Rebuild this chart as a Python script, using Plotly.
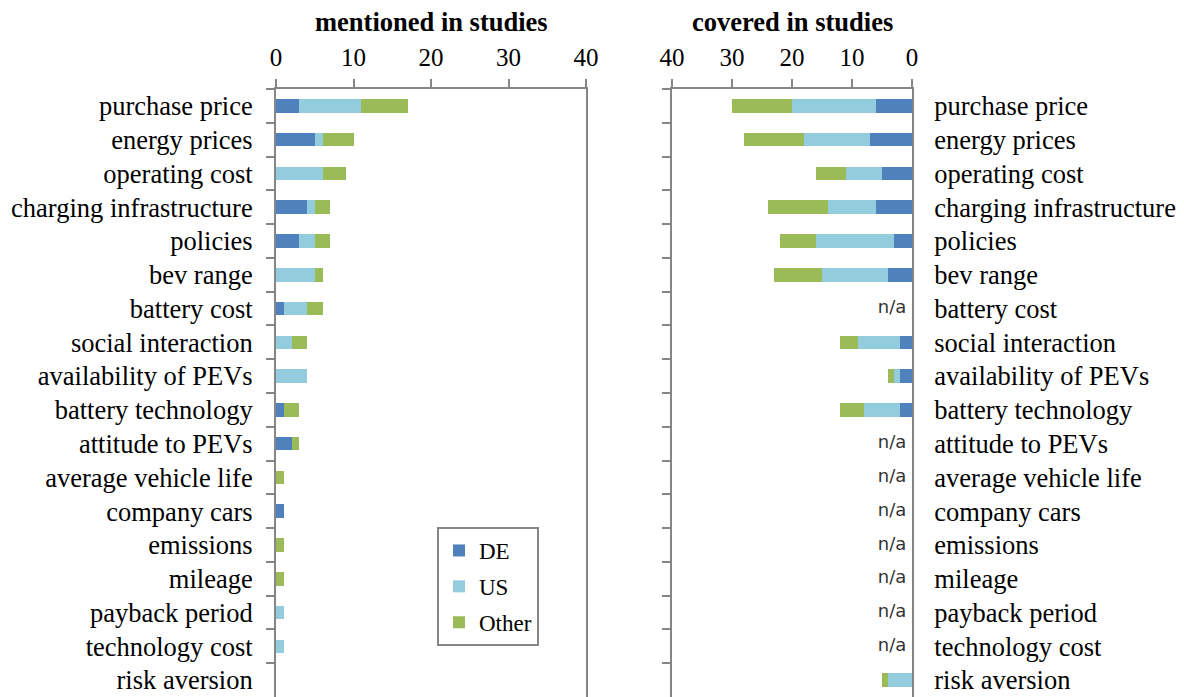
import plotly.graph_objects as go

categories = ["purchase price", "energy prices", "operating cost", "charging infrastructure",
              "policies", "bev range", "battery cost", "social interaction",
              "availability of PEVs", "battery technology", "attitude to PEVs",
              "average vehicle life", "company cars", "emissions", "mileage",
              "payback period", "technology cost", "risk aversion"]

# mentioned in studies
mentioned_de = [3, 5, 0, 4, 3, 0, 1, 0, 0, 1, 2, 0, 1, 0, 0, 0, 0, 0]
mentioned_us = [8, 1, 6, 1, 2, 5, 3, 2, 4, 0, 0, 0, 0, 0, 0, 1, 1, 0]
mentioned_other = [6, 4, 3, 2, 2, 1, 2, 2, 0, 2, 1, 1, 0, 1, 1, 0, 0, 0]

# covered in studies (None = n/a)
covered_de = [6, 7, 5, 6, 3, 4, None, 2, 2, 2, None, None, None, None, None, None, None, 0]
covered_us = [14, 11, 6, 8, 13, 11, None, 7, 1, 6, None, None, None, None, None, None, None, 4]
covered_other = [10, 10, 5, 10, 6, 8, None, 3, 1, 4, None, None, None, None, None, None, None, 1]

series_names = ["DE", "US", "Other"]
colors = ["#4F81BD", "#93CDDD", "#9BBB59"]

W, H = 1184, 697
TOP = 89
axis_col = "#868686"
serif = "Liberation Serif, Times New Roman, serif"

fig = go.Figure()

for name, vals, col in zip(series_names, [mentioned_de, mentioned_us, mentioned_other], colors):
    fig.add_trace(go.Bar(y=categories, x=vals, orientation="h", name=name,
                         marker=dict(color=col, line=dict(width=0)),
                         legendgroup=name, xaxis="x", yaxis="y"))

for name, vals, col in zip(series_names, [covered_de, covered_us, covered_other], colors):
    fig.add_trace(go.Bar(y=categories, x=[v if v is not None else 0 for v in vals],
                         orientation="h", name=name, showlegend=False,
                         marker=dict(color=col, line=dict(width=0)),
                         legendgroup=name, xaxis="x2", yaxis="y2"))

na_cats = [c for c, v in zip(categories, covered_de) if v is None]
fig.add_trace(go.Scatter(y=na_cats, x=[0] * len(na_cats), mode="text",
                         text=["n/a\u00a0"] * len(na_cats),
                         textposition="middle left", showlegend=False, hoverinfo="skip",
                         textfont=dict(family="DejaVu Sans, Verdana, sans-serif", size=18, color="#333333"),
                         xaxis="x2", yaxis="y2"))
# invisible trace carrying the left-side tick axis of the right panel
fig.add_trace(go.Scatter(y=categories, x=[0] * len(categories), mode="markers",
                         marker=dict(opacity=0), showlegend=False, hoverinfo="skip",
                         xaxis="x2", yaxis="y3"))

yr = [len(categories) - 0.5, -0.5]

fig.update_layout(
    width=W, height=H,
    margin=dict(l=0, r=0, t=TOP, b=0, autoexpand=False),
    paper_bgcolor="white", plot_bgcolor="white",
    barmode="stack", bargap=0.6,
    font=dict(family=serif, size=26, color="black"),
    xaxis=dict(domain=[276 / W, 586 / W], range=[0, 40], side="top", dtick=10,
               showline=True, linecolor=axis_col, linewidth=2, ticks="outside",
               ticklen=8, tickwidth=2, tickcolor=axis_col, showgrid=False, zeroline=False,
               tickfont=dict(size=25), ticklabelstandoff=3, anchor="y", automargin=False),
    yaxis=dict(domain=[0, 1], type="category", categoryorder="array", categoryarray=categories,
               range=yr, showline=True, mirror=True, linecolor=axis_col, linewidth=2,
               ticks="outside", tickson="boundaries", ticklen=8, tickwidth=2, tickcolor=axis_col,
               showgrid=False, zeroline=False, tickfont=dict(size=26.5), ticklabelstandoff=16,
               anchor="x", automargin=False),
    xaxis2=dict(domain=[672 / W, 912 / W], range=[40, 0], side="top", dtick=10,
                showline=True, linecolor=axis_col, linewidth=2, ticks="outside",
                ticklen=8, tickwidth=2, tickcolor=axis_col, showgrid=False, zeroline=False,
                tickfont=dict(size=25), ticklabelstandoff=3, anchor="y2", automargin=False),
    yaxis2=dict(domain=[0, 1], type="category", categoryorder="array", categoryarray=categories,
                range=yr, side="right", showline=True, linecolor=axis_col, linewidth=2,
                ticks="", showgrid=False, zeroline=False, tickfont=dict(size=26.5),
                ticklabelstandoff=15, anchor="x2", automargin=False),
    yaxis3=dict(type="category", categoryorder="array", categoryarray=categories,
                range=yr, side="left", overlaying="y2", anchor="x2", showline=True,
                linecolor=axis_col, linewidth=2, ticks="outside", tickson="boundaries",
                ticklen=8, tickwidth=2, tickcolor=axis_col, showticklabels=False,
                showgrid=False, zeroline=False, automargin=False),
    legend=dict(x=437 / W, y=(H - 527) / (H - TOP), xanchor="left", yanchor="top",
                bordercolor=axis_col, borderwidth=2, bgcolor="white",
                font=dict(family=serif, size=23), tracegroupgap=3, traceorder="grouped"),
    annotations=[
        dict(text="<b>mentioned in studies</b>", xref="x domain", yref="paper", x=0.5,
             y=(H - 22) / (H - TOP), xanchor="center", yanchor="middle", showarrow=False,
             font=dict(family=serif, size=26.5)),
        dict(text="<b>covered in studies</b>", xref="x2 domain", yref="paper", x=0.5,
             y=(H - 22) / (H - TOP), xanchor="center", yanchor="middle", showarrow=False,
             font=dict(family=serif, size=26.5)),
    ],
)

fig.write_html("out.html", config={"displayModeBar": False},
               post_script="document.body.style.margin='0';document.body.style.overflow='hidden';")
